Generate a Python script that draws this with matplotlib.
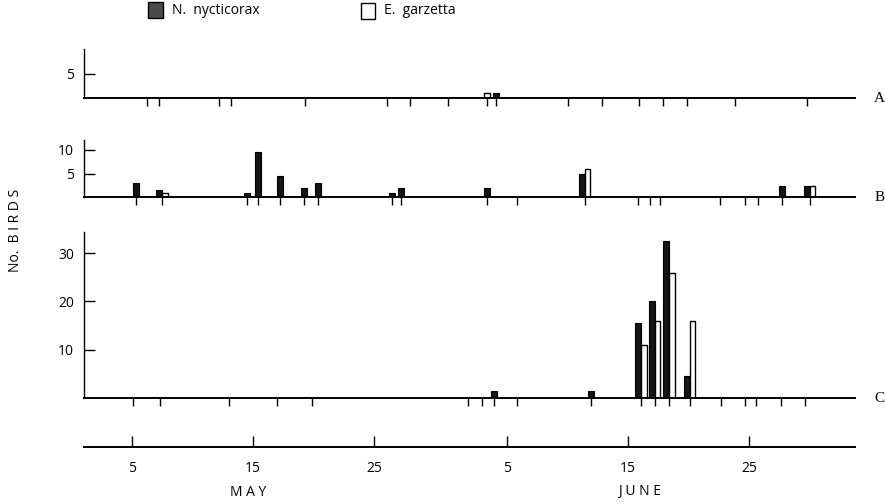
import numpy as np
import matplotlib.pyplot as plt
from matplotlib.patches import Rectangle

# day numbers counted from 1 May (day 32 = 1 June)
# census days are the small marks hanging below each baseline
a_census = [6.2, 7.2, 12.2, 13.2, 19.3, 26.1, 28.0, 31.1, 34.3, 35.1,
            41.0, 43.8, 46.9, 48.9, 50.9, 54.8, 60.8]
a_days = [34.3, 35.1]
a_nyct = [0, 1]
a_garz = [1, 0]

b_census = [5.3, 7.5, 14.5, 15.4, 17.2, 19.2, 20.4, 26.5, 27.2, 34.3,
            36.8, 42.4, 46.8, 47.8, 48.6, 53.6, 55.7, 56.7, 58.7, 61.0]
b_days = [5.3, 7.5, 14.5, 15.4, 17.2, 19.2, 20.4, 26.5, 27.2, 34.3, 42.4, 58.7, 61.0]
b_nyct = [3, 1.5, 1, 9.5, 4.5, 2, 3, 1, 2, 2, 5, 2.5, 2.5]
b_garz = [0, 1, 0, 0, 0, 0, 0, 0, 0, 0, 6, 0, 2.5]

c_census = [5.1, 7.3, 13.0, 17.0, 19.9, 32.8, 33.9, 34.9, 36.8, 42.9,
            47.1, 48.2, 49.4, 51.1, 53.7, 55.7, 56.6, 58.6, 60.6]
c_days = [34.9, 42.9, 47.1, 48.2, 49.4, 51.1]
c_nyct = [1.5, 1.5, 15.5, 20, 32.5, 4.5]
c_garz = [0, 0, 11, 16, 26, 16]

date_ticks = [5, 15, 25, 36, 46, 56]
date_labels = ['5', '15', '25', '5', '15', '25']

plt.rcParams['font.family'] = ['Open Sans', 'DejaVu Sans']

W, H = 885, 504
fig = plt.figure(figsize=(W / 100, H / 100), dpi=100)

XL, XR = 84, 855
XMIN, XMAX = 1.03, 64.75
BW = 0.5
DARK = '#151515'


def px_axes(left, bottom_px, right, top_px):
    # pixel box (y measured from the top of the image) -> figure axes
    return fig.add_axes([left / W, 1 - bottom_px / H, (right - left) / W,
                         (bottom_px - top_px) / H])


def draw_panel(ax, census, days, nyct, garz, ymax, yticks, tag):
    for d, n, g in zip(days, nyct, garz):
        if n and g:
            ax.bar(d, n, width=-BW, align='edge', color=DARK, edgecolor='black', lw=0.8, zorder=2)
            ax.bar(d, g, width=BW * 0.9, align='edge', color='white', edgecolor='black', lw=1.0, zorder=2)
        elif n:
            ax.bar(d, n, width=BW, color=DARK, edgecolor='black', lw=0.8, zorder=2)
        elif g:
            ax.bar(d, g, width=BW, color='white', edgecolor='black', lw=1.0, zorder=2)
    ax.plot(census, np.zeros(len(census)), ls='none', marker=3, ms=6, mew=1.0,
            color='black', clip_on=False, zorder=3)
    ax.set_xlim(XMIN, XMAX)
    ax.set_ylim(0, ymax)
    for s in ['top', 'right']:
        ax.spines[s].set_visible(False)
    ax.spines['bottom'].set_linewidth(1.4)
    ax.spines['left'].set_linewidth(1.0)
    ax.spines['bottom'].set_zorder(4)
    ax.set_xticks([])
    ax.set_yticks(yticks)
    ax.tick_params(axis='y', direction='in', length=8, width=1.0, pad=7, labelsize=10)
    ax.patch.set_visible(False)
    ax.text(1.025, 0, tag, transform=ax.transAxes, ha='left', va='center',
            fontsize=11, family='Liberation Serif')


ax_a = px_axes(XL, 98, XR, 49)
draw_panel(ax_a, a_census, a_days, a_nyct, a_garz, 10, [5], 'A')

ax_b = px_axes(XL, 197.5, XR, 140)
draw_panel(ax_b, b_census, b_days, b_nyct, b_garz, 12.1, [5, 10], 'B')

ax_c = px_axes(XL, 398, XR, 232)
draw_panel(ax_c, c_census, c_days, c_nyct, c_garz, 34.4, [10, 20, 30], 'C')

# date axis
ax_d = px_axes(XL, 447, XR, 446)
ax_d.set_xlim(XMIN, XMAX)
ax_d.set_yticks([])
for s in ['top', 'right', 'left']:
    ax_d.spines[s].set_visible(False)
ax_d.spines['bottom'].set_linewidth(1.4)
ax_d.set_xticks(date_ticks)
ax_d.set_xticklabels(date_labels)
ax_d.tick_params(axis='x', direction='in', length=8, width=1.0, pad=10, labelsize=10)
ax_d.patch.set_visible(False)

fig.text(248 / W, 1 - 492 / H, 'M A Y', ha='center', va='center', fontsize=10)
fig.text(640 / W, 1 - 492 / H, 'J U N E', ha='center', va='center', fontsize=10)
fig.text(16 / W, 1 - 230 / H, 'No.  B I R D S', ha='center', va='center',
         rotation=90, fontsize=10)

# legend
fig.patches.append(Rectangle((148 / W, 1 - 18 / H), 15 / W, 16 / H, transform=fig.transFigure,
                             facecolor='#4a4a4a', edgecolor='black', lw=1.0))
fig.text(172 / W, 1 - 11 / H, 'N.  nycticorax', ha='left', va='center', fontsize=10)
fig.patches.append(Rectangle((361 / W, 1 - 19 / H), 14 / W, 16 / H, transform=fig.transFigure,
                             facecolor='white', edgecolor='black', lw=1.0))
fig.text(384 / W, 1 - 11 / H, 'E.  garzetta', ha='left', va='center', fontsize=10)

fig.savefig('out.png', dpi=100)
